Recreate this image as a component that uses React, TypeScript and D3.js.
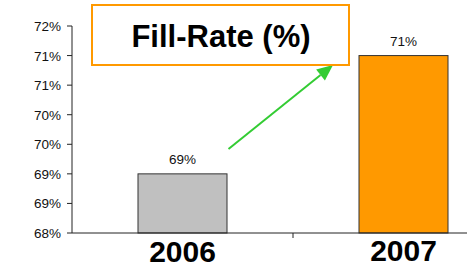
import * as d3 from "d3";

const years = ["2006", "2007"];
const fillRates = [69.0, 71.0];
const barColors = ["#C0C0C0", "#FF9900"];
const yTicks = [68, 68.5, 69, 69.5, 70, 70.5, 71, 71.5];

export default function App() {
  const width = 467;
  const height = 267;
  const left = 72;
  const top = 26;
  const bottom = 233;

  const x = d3.scaleBand().domain(years).range([left, 514]).paddingInner(0).paddingOuter(0);
  const barW = 89;
  const y = d3.scaleLinear().domain([68, 71.5]).range([bottom, top]);
  const fmt = (v: number) => `${Math.round(v)}%`;

  // annotation arrow from 2006 bar toward the title box corner
  const ax1 = (x("2006") ?? 0) + x.bandwidth() / 2 + 46;
  const ay1 = y(69.42);
  const ax2 = 333;
  const ay2 = 65;
  const ang = Math.atan2(ay2 - ay1, ax2 - ax1);
  const hl = 16;
  const hw = 7;
  const bx = ax2 - hl * Math.cos(ang);
  const by = ay2 - hl * Math.sin(ang);
  const head = [
    [ax2, ay2],
    [bx + hw * Math.sin(ang), by - hw * Math.cos(ang)],
    [bx - hw * Math.sin(ang), by + hw * Math.cos(ang)],
  ];

  return (
    <svg
      width={width}
      height={height}
      style={{ position: "absolute", left: 0, top: 0, background: "#fff" }}
      fontFamily="Arial, 'Liberation Sans', sans-serif"
    >
      {/* y axis */}
      <line x1={left} y1={top} x2={left} y2={bottom} stroke="#222" />
      {yTicks.map((t) => (
        <g key={t}>
          <line x1={left - 5} y1={y(t)} x2={left} y2={y(t)} stroke="#222" />
          <text x={61} y={y(t) + 5} fontSize={13.5} textAnchor="end" fill="#111">
            {fmt(t)}
          </text>
        </g>
      ))}

      {/* bars */}
      {years.map((yr, i) => {
        const cx = (x(yr) ?? 0) + x.bandwidth() / 2;
        return (
          <g key={yr}>
            <rect
              x={cx - barW / 2}
              y={y(fillRates[i])}
              width={barW}
              height={bottom - y(fillRates[i])}
              fill={barColors[i]}
              stroke="#333"
              strokeWidth={1}
            />
            <text x={cx} y={y(fillRates[i]) - 10} fontSize={13.5} textAnchor="middle" fill="#111">
              {fmt(fillRates[i])}
            </text>
            <text x={cx} y={262 - i} fontSize={30} fontWeight="bold" textAnchor="middle" fill="#000">
              {yr}
            </text>
          </g>
        );
      })}

      {/* x axis */}
      <line x1={left} y1={bottom} x2={width} y2={bottom} stroke="#222" />
      <line x1={x("2007")} y1={bottom} x2={x("2007")} y2={bottom + 5} stroke="#222" />

      {/* arrow */}
      <line x1={ax1} y1={ay1} x2={bx} y2={by} stroke="#33CC33" strokeWidth={2} />
      <polygon points={head.map((p) => p.join(",")).join(" ")} fill="#33CC33" />

      {/* title box */}
      <rect x={92} y={5} width={257} height={60} fill="#fff" stroke="#FF9900" strokeWidth={2} />
      <text x={221} y={47} fontSize={31} fontWeight="bold" textAnchor="middle" fill="#000">
        Fill-Rate (%)
      </text>
    </svg>
  );
}
